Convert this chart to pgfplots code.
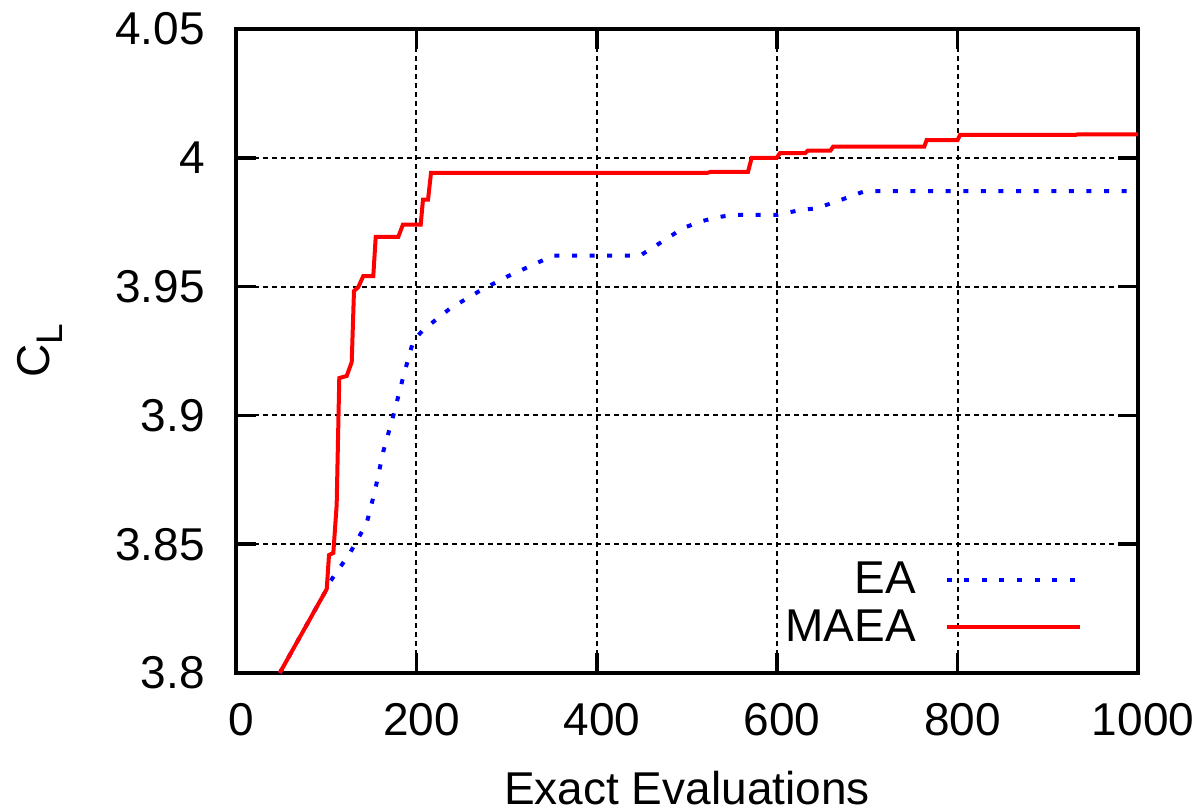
\documentclass[border=0pt]{standalone}
\usepackage{fontspec}
\setmainfont{Liberation Sans}
\usepackage{pgfplots}
\pgfplotsset{compat=1.18}
\newcommand\lab{\fontsize{23}{27.5}\selectfont}

\begin{document}
\begin{tikzpicture}
% fixed page frame around the axis box (451pt x 322pt)
\useasboundingbox (-118pt,-69.5pt) rectangle (483pt,336.5pt);
\begin{axis}[
  scale only axis,
  width=451pt, height=322pt,
  at={(0,0)}, anchor=south west,
  xmin=0, xmax=1000, ymin=3.8, ymax=4.05,
  xtick={0,200,400,600,800,1000},
  xticklabels={0,200,400,600,800,1000},
  ytick={3.8,3.85,3.9,3.95,4,4.05},
  yticklabels={3.8,3.85,3.9,3.95,4,4.05},
  tick align=inside,
  major tick length=10pt,
  every tick/.style={black, line width=1.8pt},
  axis line style={black, line width=1.8pt},
  grid=major,
  major grid style={black, line width=1pt, dash pattern=on 2.5pt off 2pt},
  tick label style={font=\lab, inner sep=0pt},
  xticklabel style={xshift=2.5pt},
  xticklabel shift=15pt,
  yticklabel shift=15.5pt,
  xlabel={Exact Evaluations},
  xlabel style={font=\lab, inner sep=0pt,
    at={([yshift=-49pt]axis description cs:0.5,0)}, anchor=north},
  ylabel={C\raisebox{-0.29em}{\fontsize{18.5}{18.5}\selectfont L}},
  ylabel style={font=\lab, inner sep=0pt,
    at={([xshift=-86.5pt]axis description cs:0,0.5)}, anchor=south},
  legend plot pos=right,
  legend cell align=right,
  legend style={draw=none, fill=none, font=\lab, inner sep=0pt,
    at={(rel axis cs:0.9380,0.0435)}, anchor=south east,
    row sep=6.5pt, column sep=14.5pt,
    nodes={inner sep=0pt}},
  legend image code/.code={\draw[#1] (0pt,0pt) -- (66.5pt,0pt);},
]
% EA: plain evolutionary algorithm
\addplot[blue, line width=2pt, dash pattern=on 2.5pt off 6.3pt] coordinates {
 (48.5,3.8) (100.6,3.8326) (104.2,3.8354) (126.4,3.8466) (144.9,3.8582)
 (154.1,3.8708) (163.3,3.886) (174.4,3.8999) (185.5,3.9151) (196.6,3.929)
 (207.6,3.9332) (237.3,3.9415) (270.5,3.9484) (300.1,3.9538) (337,3.9597)
 (351.4,3.962) (447.9,3.962) (466.4,3.9661) (495.6,3.9727) (514.4,3.9752)
 (533,3.9769) (551,3.9778) (599.4,3.9778) (625.3,3.9797) (643.8,3.9804)
 (661.9,3.9826) (680.7,3.9849) (697.3,3.9871) (1000,3.9871)
};
\addlegendentry{EA}
% MAEA: metamodel-assisted evolutionary algorithm
\addplot[red, line width=2pt] coordinates {
 (48.5,3.8) (100.6,3.8326) (103.1,3.8458) (107.9,3.8466) (111.6,3.8652)
 (114.5,3.9145) (122.7,3.9153) (128.3,3.9207) (130.8,3.9483) (135.6,3.9498)
 (141.1,3.9541) (152.2,3.9541) (154.9,3.9693) (179.9,3.9693) (185.1,3.9741)
 (204.8,3.9741) (207.3,3.9838) (212.9,3.9838) (216.2,3.9941) (522,3.9941)
 (526,3.9945) (567.6,3.9945) (571.7,4.0) (599.4,4.0) (603,4.0018)
 (631,4.0018) (634,4.0028) (659,4.0028) (662,4.0043) (763,4.0043)
 (765.7,4.0069) (800,4.0069) (802.7,4.0089) (931,4.0089) (933,4.0091)
 (1000,4.0091)
};
\addlegendentry{MAEA}
\end{axis}
\end{tikzpicture}
\end{document}
